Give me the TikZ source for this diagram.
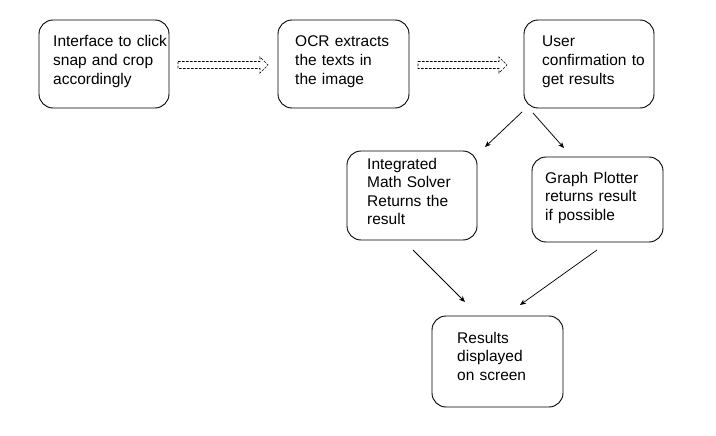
\documentclass[tikz,border=0pt]{standalone}
\usepackage{fontspec}
\setmainfont{Liberation Sans}
\usetikzlibrary{arrows.meta,calc}
\tikzset{
  box/.style={draw=black, line width=0.9pt, rounded corners=14pt, inner sep=0pt},
  txt/.style={anchor=base west, inner sep=0pt, align=left, text width=135pt,
    font=\fontsize{15.5pt}{18.6pt}\selectfont},
  thinarrow/.style={draw=black, line width=0.75pt, -{Stealth[length=6pt,width=5pt]}},
  hollowarrow/.style={draw=black, line width=0.7pt, dash pattern=on 2.6pt off 1.4pt}
}
\begin{document}
\begin{tikzpicture}[x=1pt,y=-1pt]
\useasboundingbox (0,0) rectangle (716,436);
% boxes
\node[box, minimum width=130pt, minimum height=88pt] (b1) at (104,64) {};
\node[box, minimum width=131pt, minimum height=88pt] (b2) at (343.5,64) {};
\node[box, minimum width=130pt, minimum height=88pt] (b3) at (589,64) {};
\node[box, minimum width=130pt, minimum height=89pt] (b4) at (412,195.5) {};
\node[box, minimum width=131pt, minimum height=85pt] (b5) at (597.5,199.5) {};
\node[box, minimum width=131pt, minimum height=91pt] (b6) at (497.5,361.5) {};
% texts
\node[txt] (t1) at (53,47) {Interface to click\\snap and crop\\accordingly};
\node[txt] (t2) at (295,47) {OCR extracts\\the texts in\\the image};
\node[txt] (t3) at (542,47) {User\\confirmation to\\get results};
\node[txt] (t4) at (367,169) {Integrated\\Math Solver\\Returns the\\result};
\node[txt] (t5) at (545,183) {Graph Plotter\\returns result\\if possible};
\node[txt] (t6) at (457,343) {Results\\displayed\\on screen};
% hollow dashed arrows
\coordinate (h1a) at (178,65);
\coordinate (h1b) at (268,65);
\coordinate (h2a) at (418,65);
\coordinate (h2b) at (507,65);
\draw[hollowarrow] ($(h1a)+(0,-3.5)$) -- ($(h1b)+(-8,-3.5)$) -- ($(h1b)+(-8,-8)$) -- (h1b)
  -- ($(h1b)+(-8,8)$) -- ($(h1b)+(-8,3.5)$) -- ($(h1a)+(0,3.5)$) -- cycle;
\draw[hollowarrow] ($(h2a)+(0,-3.5)$) -- ($(h2b)+(-8,-3.5)$) -- ($(h2b)+(-8,-8)$) -- (h2b)
  -- ($(h2b)+(-8,8)$) -- ($(h2b)+(-8,3.5)$) -- ($(h2a)+(0,3.5)$) -- cycle;
% thin arrows
\coordinate (a1s) at (522,112); \coordinate (a1e) at (485,147);
\coordinate (a2s) at (533,113); \coordinate (a2e) at (564,148);
\coordinate (a3s) at (413,250); \coordinate (a3e) at (465,302);
\coordinate (a4s) at (597,250); \coordinate (a4e) at (520,305);
\draw[thinarrow] (a1s) -- (a1e);
\draw[thinarrow] (a2s) -- (a2e);
\draw[thinarrow] (a3s) -- (a3e);
\draw[thinarrow] (a4s) -- (a4e);
\end{tikzpicture}
\end{document}
